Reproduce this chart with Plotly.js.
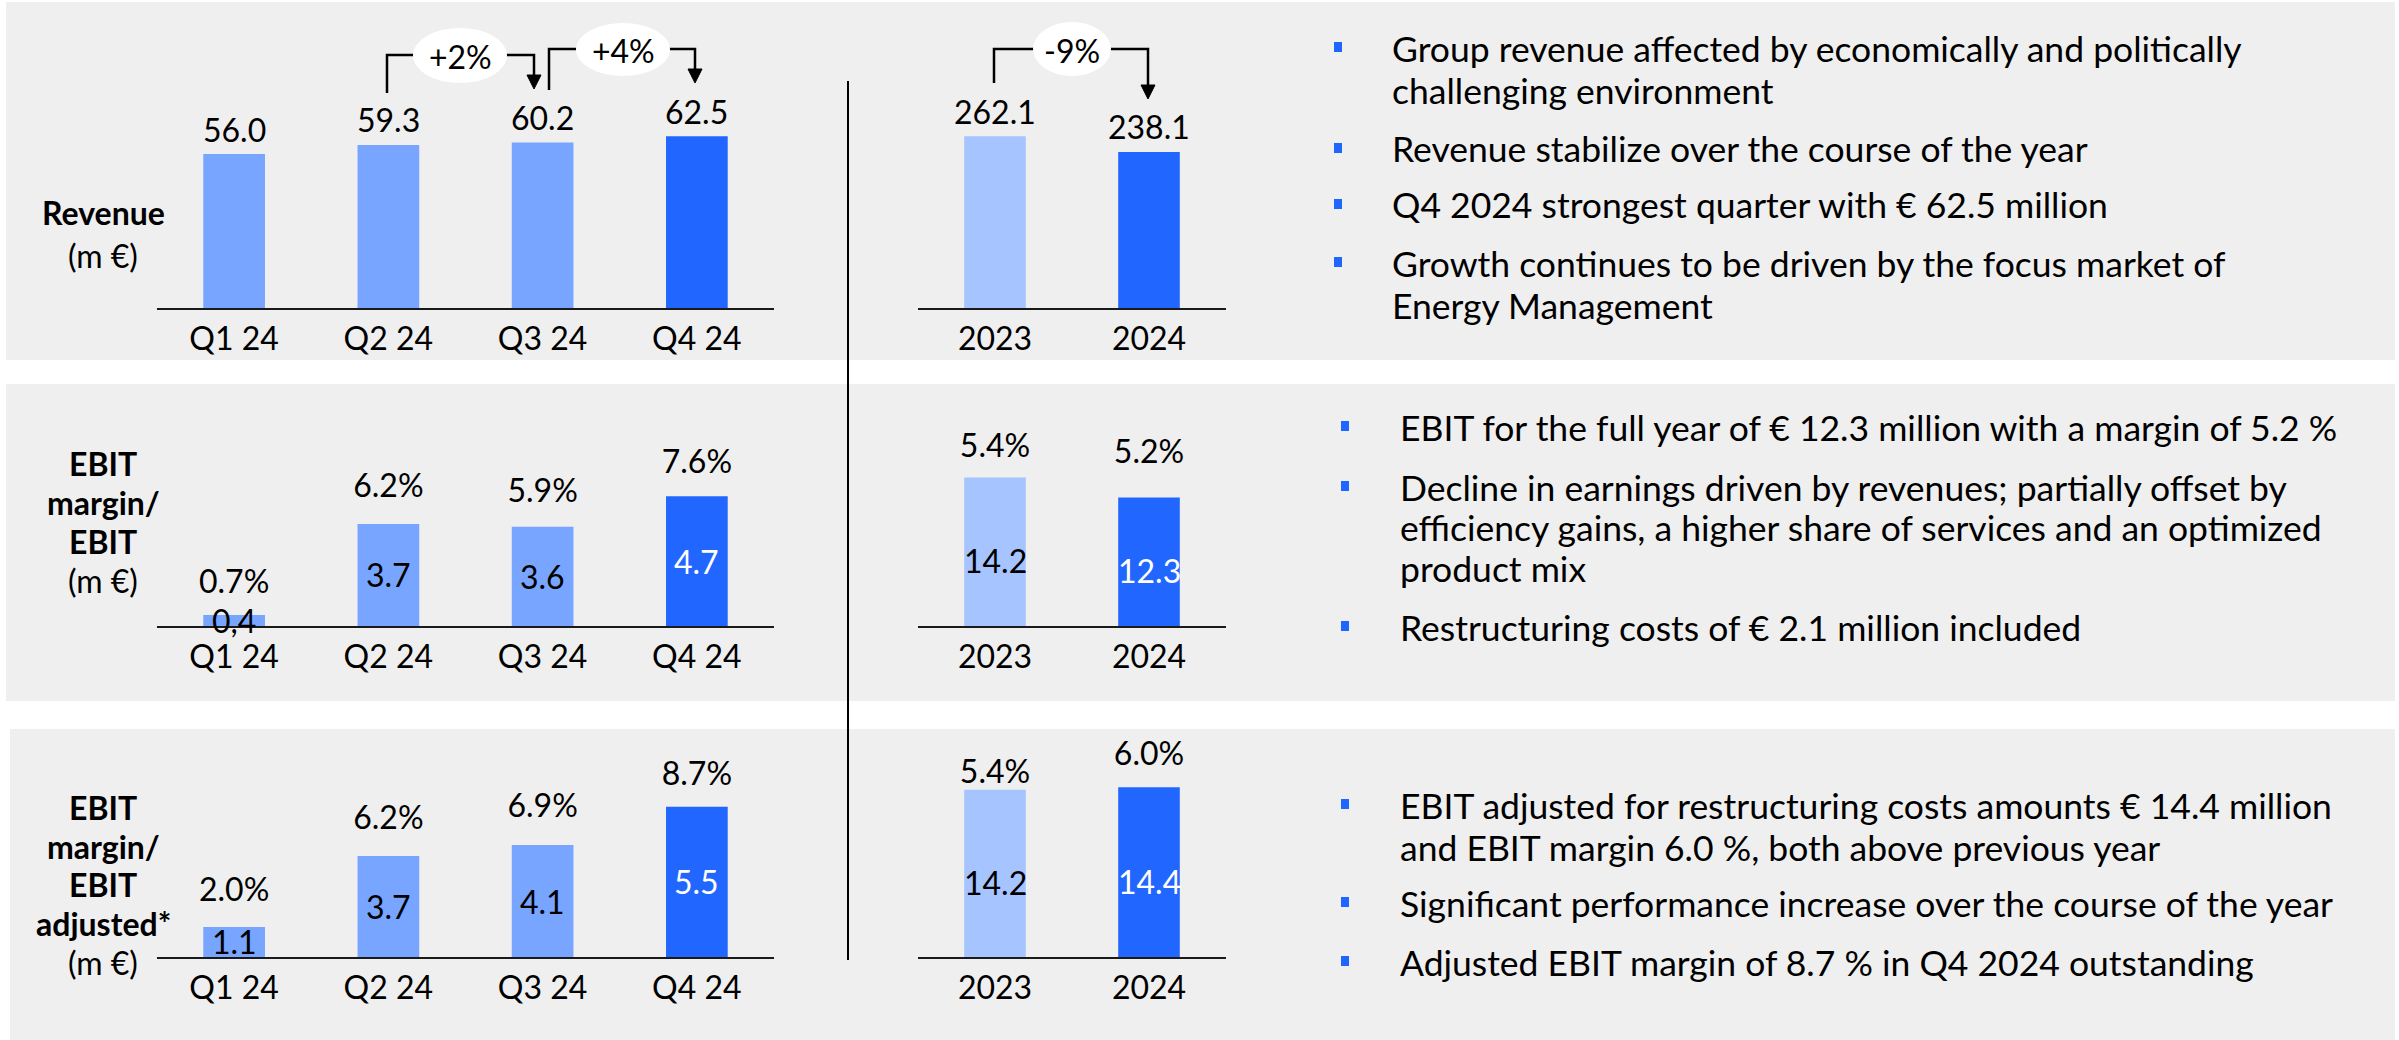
<!DOCTYPE html>
<html><head><meta charset="utf-8">
<script src="https://cdn.plot.ly/plotly-3.0.1.min.js"></script>
<style>html,body{margin:0;padding:0;background:#fff;overflow:hidden}#chart{width:2399px;height:1040px}</style>
</head><body><div id="chart"></div>
<script>
// ---------------- DATA ----------------
const quarters = ['Q1 24', 'Q2 24', 'Q3 24', 'Q4 24'];
const years = ['2023', '2024'];

const revenueQ = [56.0, 59.3, 60.2, 62.5];
const revenueY = [262.1, 238.1];
const revenueQChange = ['+2%', '+4%'];
const revenueYChange = ['-9%'];

const ebitQ = [0.4, 3.7, 3.6, 4.7];
const ebitQLabels = ['0,4', '3.7', '3.6', '4.7'];
const ebitMarginQ = [0.7, 6.2, 5.9, 7.6];
const ebitY = [14.2, 12.3];
const ebitMarginY = [5.4, 5.2];

const ebitAdjQ = [1.1, 3.7, 4.1, 5.5];
const ebitAdjMarginQ = [2.0, 6.2, 6.9, 8.7];
const ebitAdjY = [14.2, 14.4];
const ebitAdjMarginY = [5.4, 6.0];

const titleRevenue = ['<b>Revenue</b>', '(m €)'];
const titleEbit = ['<b>EBIT</b>', '<b>margin/</b>', '<b>EBIT</b>', '(m €)'];
const titleEbitAdj = ['<b>EBIT</b>', '<b>margin/</b>', '<b>EBIT</b>', '<b>adjusted*</b>', '(m €)'];

const bulletsRevenue = [
  ['Group revenue affected by economically and politically', 'challenging environment'],
  ['Revenue stabilize over the course of the year'],
  ['Q4 2024 strongest quarter with € 62.5 million'],
  ['Growth continues to be driven by the focus market of', 'Energy Management']
];
const bulletsEbit = [
  ['EBIT for the full year of € 12.3 million with a margin of 5.2 %'],
  ['Decline in earnings driven by revenues; partially offset by', 'efficiency gains, a higher share of services and an optimized', 'product mix'],
  ['Restructuring costs of € 2.1 million included']
];
const bulletsEbitAdj = [
  ['EBIT adjusted for restructuring costs amounts € 14.4 million', 'and EBIT margin 6.0 %, both above previous year'],
  ['Significant performance increase over the course of the year'],
  ['Adjusted EBIT margin of 8.7 % in Q4 2024 outstanding']
];

// ---------------- STYLE / LAYOUT HELPERS ----------------
const W = 2399, H = 1040;
const px = v => v / W;
const py = v => 1 - v / H;
const FONT = 'Lato, "Open Sans", sans-serif';
const FS = 32;      // chart text
const FS_B = 35.5;  // bullet text
const C_LIGHT = '#78a5ff', C_DARK = '#2166ff', C_PREV = '#a6c4ff', BG = '#efefef';

const qColors = quarters.map((q, i) => i === quarters.length - 1 ? C_DARK : C_LIGHT);
const yColors = [C_PREV, C_DARK];
const qText = quarters.map((q, i) => i === quarters.length - 1 ? '#ffffff' : '#000000');
const yText = ['#000000', '#ffffff'];

function xax(d0, d1, n, anchor) {
  return {
    domain: [px(d0), px(d1)], anchor: anchor, type: 'category', range: [-0.5, n - 0.5],
    showline: true, linecolor: '#1a1a1a', linewidth: 2, ticks: 'outside', ticklen: 2,
    tickcolor: 'rgba(0,0,0,0)', tickfont: {family: FONT, size: FS, color: '#000'},
    showgrid: false, zeroline: false, fixedrange: true
  };
}
function yax(base, top, pxPerUnit, zeroPx) {
  const z = zeroPx === undefined ? base : zeroPx;
  return {
    domain: [py(base), py(top)], range: [(z - base) / pxPerUnit, (z - top) / pxPerUnit],
    visible: false, showgrid: false, zeroline: false, fixedrange: true
  };
}

const traces = [];
const annotations = [];
const shapes = [];

function barTrace(x, y, colors, xa, ya) {
  traces.push({type: 'bar', x: x, y: y, xaxis: xa, yaxis: ya, width: 0.4,
    marker: {color: colors, line: {width: 0}}, hoverinfo: 'skip', showlegend: false});
}
function marginTrace(x, m, xa, ya) {
  traces.push({type: 'scatter', mode: 'text', x: x, y: m, xaxis: xa, yaxis: ya,
    text: m.map(v => v.toFixed(1) + '%'), textposition: 'middle center',
    textfont: {family: FONT, size: FS, color: '#000'}, cliponaxis: false,
    hoverinfo: 'skip', showlegend: false});
}
// annotations on category axes use the category index
function topLabels(x, y, xa, ya, shift) {
  x.forEach((c, i) => annotations.push({xref: xa, yref: ya, x: i, y: y[i], yanchor: 'middle',
    yshift: shift, showarrow: false, text: y[i].toFixed(1),
    font: {family: FONT, size: FS, color: '#000'}}));
}
function insideLabels(x, y, labels, colors, xa, ya, shift) {
  x.forEach((c, i) => annotations.push({xref: xa, yref: ya, x: i, y: y[i] / 2, yanchor: 'middle',
    yshift: shift, showarrow: false, text: labels[i],
    font: {family: FONT, size: FS, color: colors[i]}}));
}

// ---------------- PANEL BACKGROUNDS ----------------
[[6, 2, 2395, 360], [6, 384, 2395, 701], [10, 729, 2395, 1040]].forEach(r => shapes.push({
  type: 'rect', xref: 'paper', yref: 'paper', x0: px(r[0]), x1: px(r[2]), y0: py(r[3]), y1: py(r[1]),
  fillcolor: BG, line: {width: 0}, layer: 'below'}));

// divider
shapes.push({type: 'line', xref: 'paper', yref: 'paper', x0: px(848), x1: px(848), y0: py(81), y1: py(960),
  line: {color: '#000', width: 2}});

// ---------------- PANEL 1: REVENUE ----------------
barTrace(quarters, revenueQ, qColors, 'x', 'y');
topLabels(quarters, revenueQ, 'x', 'y', 25);
barTrace(years, revenueY, yColors, 'x2', 'y2');
topLabels(years, revenueY, 'x2', 'y2', 25);

// ---------------- PANEL 2: EBIT ----------------
barTrace(quarters, ebitQ, qColors, 'x3', 'y3');
insideLabels(quarters, ebitQ, ebitQLabels, qText, 'x3', 'y3', 0);
marginTrace(quarters, ebitMarginQ, 'x3', 'y4');
barTrace(years, ebitY, yColors, 'x4', 'y5');
insideLabels(years, ebitY, ebitY.map(v => v.toFixed(1)), yText, 'x4', 'y5', -9);
marginTrace(years, ebitMarginY, 'x4', 'y6');

// ---------------- PANEL 3: EBIT ADJUSTED ----------------
barTrace(quarters, ebitAdjQ, qColors, 'x5', 'y7');
insideLabels(quarters, ebitAdjQ, ebitAdjQ.map(v => v.toFixed(1)), qText, 'x5', 'y7', 0);
marginTrace(quarters, ebitAdjMarginQ, 'x5', 'y8');
barTrace(years, ebitAdjY, yColors, 'x6', 'y9');
insideLabels(years, ebitAdjY, ebitAdjY.map(v => v.toFixed(1)), yText, 'x6', 'y9', -9);
marginTrace(years, ebitAdjMarginY, 'x6', 'y10');

// ---------------- CHANGE BRACKETS ----------------
function bracket(xl, yl, xr, yTop, yTip, e, label, lblY) {
  const hw = 7, hh = 14;
  shapes.push({type: 'path', xref: 'paper', yref: 'paper',
    path: `M${px(xl)},${py(yl)} L${px(xl)},${py(yTop)} L${px(xr)},${py(yTop)} L${px(xr)},${py(yTip - hh)}`,
    line: {color: '#000', width: 2.5}});
  shapes.push({type: 'path', xref: 'paper', yref: 'paper',
    path: `M${px(xr - hw)},${py(yTip - hh)} L${px(xr + hw)},${py(yTip - hh)} L${px(xr)},${py(yTip)} Z`,
    fillcolor: '#000', line: {color: '#000', width: 1}});
  shapes.push({type: 'circle', xref: 'paper', yref: 'paper', x0: px(e[0]), x1: px(e[1]), y0: py(e[3]), y1: py(e[2]),
    fillcolor: '#ffffff', line: {width: 0}});
  annotations.push({xref: 'paper', yref: 'paper', x: px((e[0] + e[1]) / 2), y: py(lblY), xanchor: 'center',
    yanchor: 'middle', showarrow: false, text: label, font: {family: FONT, size: FS, color: '#000'}});
}
bracket(387, 93, 534, 55, 89, [413, 507, 28, 83], revenueQChange[0], 56);
bracket(549, 90, 695, 49, 83, [576, 670, 23, 76], revenueQChange[1], 50);
bracket(994, 83, 1148, 49, 99, [1033, 1111, 22, 76], revenueYChange[0], 50);

// ---------------- LEFT TITLES ----------------
function titleLines(lines, ys) {
  lines.forEach((t, i) => annotations.push({xref: 'paper', yref: 'paper', x: px(103), y: py(ys[i]),
    xanchor: 'center', yanchor: 'middle', showarrow: false, text: t,
    font: {family: FONT, size: FS, color: '#000'}}));
}
titleLines(titleRevenue, [213, 255]);
titleLines(titleEbit, [463, 502, 541, 580]);
titleLines(titleEbitAdj, [807, 846, 884, 923, 962]);

// ---------------- RIGHT BULLETS ----------------
function bulletBlock(items, xText, xBullet, lineYs) {
  let k = 0;
  items.forEach(lines => {
    const y0 = lineYs[k];
    shapes.push({type: 'rect', xref: 'paper', yref: 'paper', x0: px(xBullet), x1: px(xBullet + 8),
      y0: py(y0 + 4), y1: py(y0 - 6), fillcolor: '#1f66ff', line: {width: 0}});
    lines.forEach(t => {
      annotations.push({xref: 'paper', yref: 'paper', x: px(xText), y: py(lineYs[k]), xanchor: 'left',
        yanchor: 'middle', showarrow: false, text: t, font: {family: FONT, size: FS_B, color: '#000'}});
      k++;
    });
  });
}
bulletBlock(bulletsRevenue, 1390, 1334, [48, 90, 149, 205, 263, 305]);
bulletBlock(bulletsEbit, 1398, 1341, [427, 487, 527, 568, 627]);
bulletBlock(bulletsEbitAdj, 1398, 1341, [805, 847, 903, 962]);

// ---------------- LAYOUT ----------------
const layout = {
  width: W, height: H, margin: {l: 0, r: 0, t: 0, b: 0, pad: 0},
  paper_bgcolor: '#ffffff', plot_bgcolor: 'rgba(0,0,0,0)', showlegend: false,
  font: {family: FONT, size: FS, color: '#000'}, hovermode: false, barmode: 'group',
  xaxis: xax(157, 774, 4, 'y'),
  yaxis: yax(308, 20, 2.75),
  xaxis2: xax(918, 1226, 2, 'y2'),
  yaxis2: yax(308, 20, 0.6555),
  xaxis3: xax(157, 774, 4, 'y3'),
  yaxis3: yax(626, 395, 27.6),
  yaxis4: Object.assign(yax(626, 395, 17.4, 597), {overlaying: 'y3'}),
  xaxis4: xax(918, 1226, 2, 'y5'),
  yaxis5: yax(626, 395, 10.45),
  yaxis6: Object.assign(yax(626, 395, 27, 595), {overlaying: 'y5'}),
  xaxis5: xax(157, 774, 4, 'y7'),
  yaxis7: yax(957, 740, 27.3),
  yaxis8: Object.assign(yax(957, 740, 17.3, 928), {overlaying: 'y7'}),
  xaxis6: xax(918, 1226, 2, 'y9'),
  yaxis9: yax(957, 740, 11.78),
  yaxis10: Object.assign(yax(957, 740, 30, 937), {overlaying: 'y9'}),
  shapes: shapes, annotations: annotations
};
['yaxis4', 'yaxis6', 'yaxis8', 'yaxis10'].forEach(k => delete layout[k].domain);

Plotly.newPlot('chart', traces, layout, {staticPlot: true, displayModeBar: false});
</script></body></html>
